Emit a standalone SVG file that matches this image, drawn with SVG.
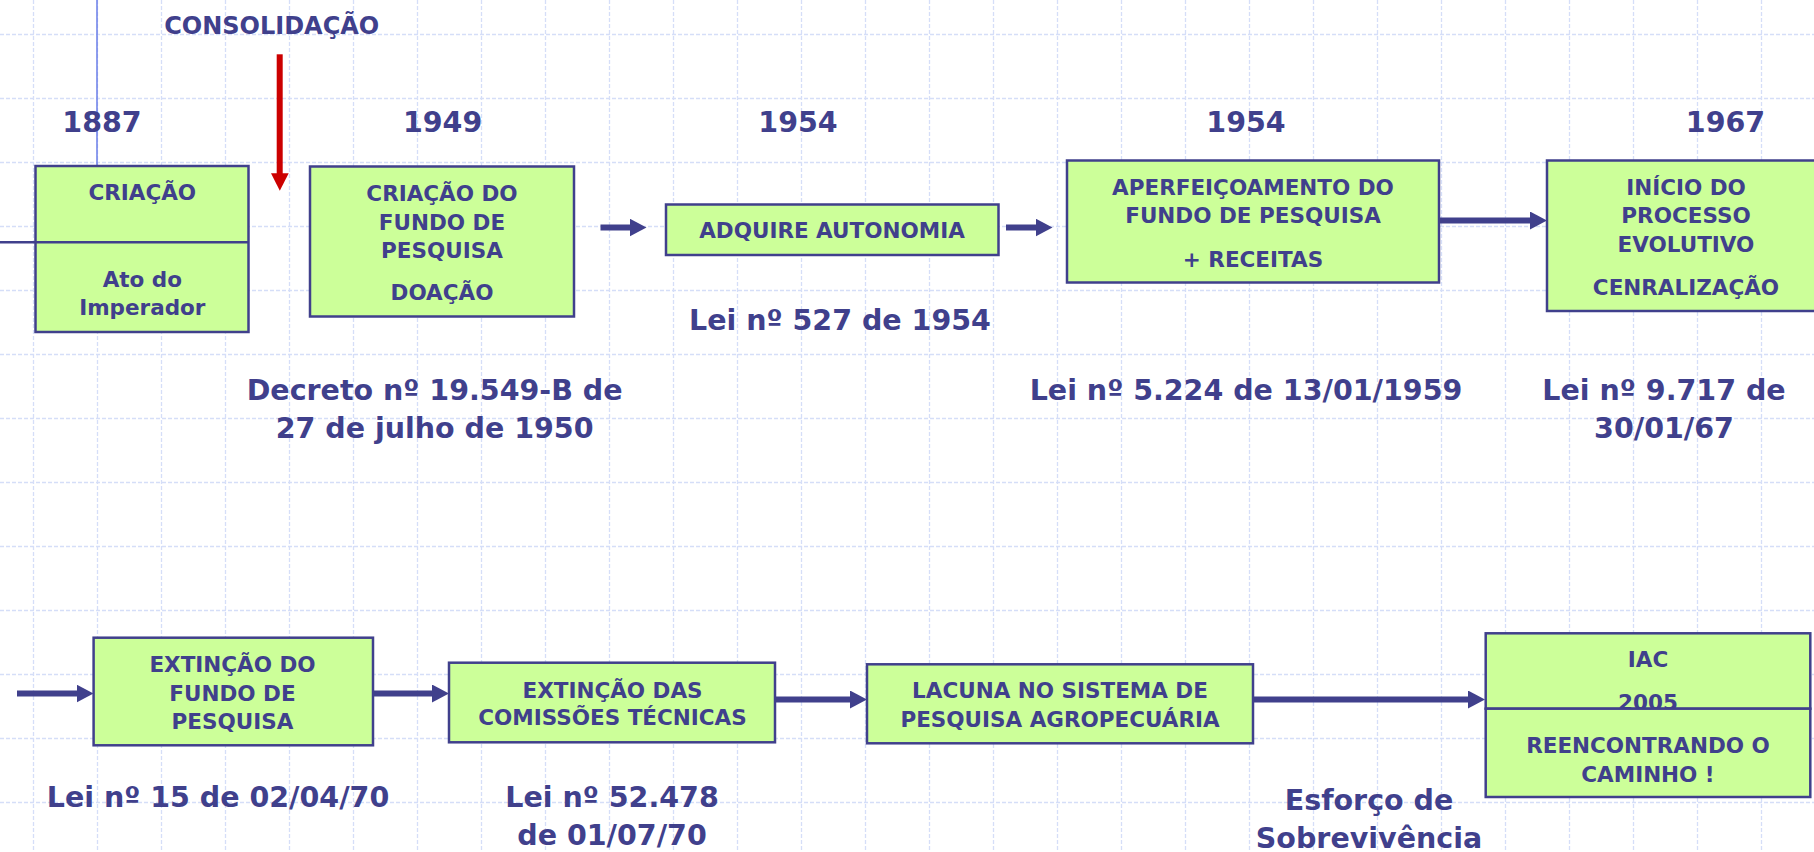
<svg xmlns="http://www.w3.org/2000/svg" width="1814" height="852" viewBox="0 0 1814 852">
<style>
.t{font-family:"DejaVu Sans","Liberation Sans",sans-serif;font-weight:bold;fill:#40408c;text-anchor:middle}
.b{font-size:21.5px}
.l{font-size:28.5px}
.box{fill:#ccff99;stroke:#40408c;stroke-width:2.5}
.grid line{stroke:#d5def8;stroke-width:1.3;stroke-dasharray:4 2}
.conn{stroke:#40408c;stroke-width:6;fill:none}
</style>
<defs>
<marker id="ah" markerUnits="userSpaceOnUse" markerWidth="18" markerHeight="18" refX="5" refY="9" orient="auto"><path d="M0,0 L17,9 L0,18 z" fill="#40408c"/></marker>
</defs>
<rect width="1814" height="852" fill="#ffffff"/>
<g class="grid" id="grid">
<line x1="33.5" y1="0" x2="33.5" y2="852"/><line x1="97.5" y1="0" x2="97.5" y2="852"/><line x1="161.5" y1="0" x2="161.5" y2="852"/><line x1="225.5" y1="0" x2="225.5" y2="852"/><line x1="289.5" y1="0" x2="289.5" y2="852"/><line x1="353.5" y1="0" x2="353.5" y2="852"/><line x1="417.5" y1="0" x2="417.5" y2="852"/><line x1="481.5" y1="0" x2="481.5" y2="852"/><line x1="545.5" y1="0" x2="545.5" y2="852"/><line x1="609.5" y1="0" x2="609.5" y2="852"/><line x1="673.5" y1="0" x2="673.5" y2="852"/><line x1="737.5" y1="0" x2="737.5" y2="852"/><line x1="801.5" y1="0" x2="801.5" y2="852"/><line x1="865.5" y1="0" x2="865.5" y2="852"/><line x1="929.5" y1="0" x2="929.5" y2="852"/><line x1="993.5" y1="0" x2="993.5" y2="852"/><line x1="1057.5" y1="0" x2="1057.5" y2="852"/><line x1="1121.5" y1="0" x2="1121.5" y2="852"/><line x1="1185.5" y1="0" x2="1185.5" y2="852"/><line x1="1249.5" y1="0" x2="1249.5" y2="852"/><line x1="1313.5" y1="0" x2="1313.5" y2="852"/><line x1="1377.5" y1="0" x2="1377.5" y2="852"/><line x1="1441.5" y1="0" x2="1441.5" y2="852"/><line x1="1505.5" y1="0" x2="1505.5" y2="852"/><line x1="1569.5" y1="0" x2="1569.5" y2="852"/><line x1="1633.5" y1="0" x2="1633.5" y2="852"/><line x1="1697.5" y1="0" x2="1697.5" y2="852"/><line x1="1761.5" y1="0" x2="1761.5" y2="852"/>
<line x1="0" y1="34.5" x2="1814" y2="34.5"/><line x1="0" y1="98.5" x2="1814" y2="98.5"/><line x1="0" y1="162.5" x2="1814" y2="162.5"/><line x1="0" y1="226.5" x2="1814" y2="226.5"/><line x1="0" y1="290.5" x2="1814" y2="290.5"/><line x1="0" y1="354.5" x2="1814" y2="354.5"/><line x1="0" y1="418.5" x2="1814" y2="418.5"/><line x1="0" y1="482.5" x2="1814" y2="482.5"/><line x1="0" y1="546.5" x2="1814" y2="546.5"/><line x1="0" y1="610.5" x2="1814" y2="610.5"/><line x1="0" y1="674.5" x2="1814" y2="674.5"/><line x1="0" y1="738.5" x2="1814" y2="738.5"/><line x1="0" y1="802.5" x2="1814" y2="802.5"/>
</g>
<g id="axes">
<line x1="97" y1="0" x2="97" y2="166" stroke="#6a7ee8" stroke-width="1.5"/>
<line x1="0" y1="242.3" x2="36" y2="242.3" stroke="#40408c" stroke-width="2.5"/>
</g>
<g id="connectors">
<line class="conn" x1="600.5" y1="227.5" x2="634.5" y2="227.5" marker-end="url(#ah)"/>
<line class="conn" x1="1006" y1="227.5" x2="1040.5" y2="227.5" marker-end="url(#ah)"/>
<line class="conn" x1="1439" y1="220.5" x2="1535" y2="220.5" marker-end="url(#ah)"/>
<line class="conn" x1="17" y1="693.5" x2="81.5" y2="693.5" marker-end="url(#ah)"/>
<line class="conn" x1="373" y1="693.5" x2="437" y2="693.5" marker-end="url(#ah)"/>
<line class="conn" x1="775" y1="699.5" x2="855" y2="699.5" marker-end="url(#ah)"/>
<line class="conn" x1="1253" y1="699.5" x2="1473" y2="699.5" marker-end="url(#ah)"/>
<g id="red-arrow" fill="#cc0000">
<rect x="276.7" y="54.3" width="6" height="122"/>
<polygon points="271,173.3 288.7,173.3 279.8,190.7"/>
</g>
</g>
<g id="labels" class="t">
<text x="271.7" y="34.3" style="font-size:24px">CONSOLIDAÇÃO</text>
<text class="l" x="102" y="131.7">1887</text>
<text class="l" x="442.6" y="131.7">1949</text>
<text class="l" x="798" y="131.7">1954</text>
<text class="l" x="1246" y="131.7">1954</text>
<text class="l" x="1725.5" y="131.7">1967</text>
<text class="l" x="840" y="330">Lei nº 527 de 1954</text>
<text class="l" x="434.6" y="400">Decreto nº 19.549-B de</text>
<text class="l" x="434.6" y="437.7">27 de julho de 1950</text>
<text class="l" x="1246" y="399.5">Lei nº 5.224 de 13/01/1959</text>
<text class="l" x="1664" y="399.5">Lei nº 9.717 de</text>
<text class="l" x="1664" y="437.7">30/01/67</text>
<text class="l" x="218" y="807.3">Lei nº 15 de 02/04/70</text>
<text class="l" x="612" y="807.3">Lei nº 52.478</text>
<text class="l" x="612" y="845">de 01/07/70</text>
<text class="l" x="1369" y="810">Esforço de</text>
<text class="l" x="1369" y="847.5">Sobrevivência</text>
</g>
<g id="n-criacao">
<rect class="box" x="35.5" y="166" width="213" height="166"/>
<line x1="35.5" y1="242.3" x2="248.5" y2="242.3" stroke="#40408c" stroke-width="2.5"/>
<text class="t b" x="142.3" y="200">CRIAÇÃO</text>
<text class="t b" x="142.3" y="286.7">Ato do</text>
<text class="t b" x="142.3" y="315">Imperador</text>
</g>
<g id="n-fundo">
<rect class="box" x="310" y="166.5" width="264" height="150"/>
<text class="t b" x="442" y="201">CRIAÇÃO DO</text>
<text class="t b" x="442" y="230">FUNDO DE</text>
<text class="t b" x="442" y="258">PESQUISA</text>
<text class="t b" x="442" y="300">DOAÇÃO</text>
</g>
<g id="n-autonomia">
<rect class="box" x="666" y="204.5" width="332.5" height="50.5"/>
<text class="t b" x="832" y="238.3">ADQUIRE AUTONOMIA</text>
</g>
<g id="n-aperfeicoamento">
<rect class="box" x="1067" y="160.5" width="372" height="122"/>
<text class="t b" x="1253" y="195">APERFEIÇOAMENTO DO</text>
<text class="t b" x="1253" y="223.3">FUNDO DE PESQUISA</text>
<text class="t b" x="1253" y="266.7">+ RECEITAS</text>
</g>
<g id="n-inicio">
<rect class="box" x="1547" y="160.5" width="280" height="150.5"/>
<text class="t b" x="1686" y="195">INÍCIO DO</text>
<text class="t b" x="1686" y="223">PROCESSO</text>
<text class="t b" x="1686" y="251.7">EVOLUTIVO</text>
<text class="t b" x="1686" y="295">CENRALIZAÇÃO</text>
</g>
<g id="n-extincao-fundo">
<rect class="box" x="93.6" y="637.7" width="279.4" height="107.6"/>
<text class="t b" x="232.5" y="671.7">EXTINÇÃO DO</text>
<text class="t b" x="232.5" y="700.7">FUNDO DE</text>
<text class="t b" x="232.5" y="729.3">PESQUISA</text>
</g>
<g id="n-extincao-comissoes">
<rect class="box" x="449" y="662.7" width="326" height="79.6"/>
<text class="t b" x="612.5" y="697.7">EXTINÇÃO DAS</text>
<text class="t b" x="612.5" y="725">COMISSÕES TÉCNICAS</text>
</g>
<g id="n-lacuna">
<rect class="box" x="867" y="664.3" width="386" height="79"/>
<text class="t b" x="1060" y="698.3">LACUNA NO SISTEMA DE</text>
<text class="t b" x="1060" y="726.7">PESQUISA AGROPECUÁRIA</text>
</g>
<g id="n-iac">
<rect class="box" x="1485.7" y="633.3" width="324.6" height="75.4"/>
<text class="t b" x="1648" y="667.3">IAC</text>
<text class="t b" x="1648" y="710">2005</text>
<rect class="box" x="1485.7" y="708.7" width="324.6" height="88.3"/>
<text class="t b" x="1648" y="753.3">REENCONTRANDO O</text>
<text class="t b" x="1648" y="781.7">CAMINHO !</text>
</g>
</svg>
